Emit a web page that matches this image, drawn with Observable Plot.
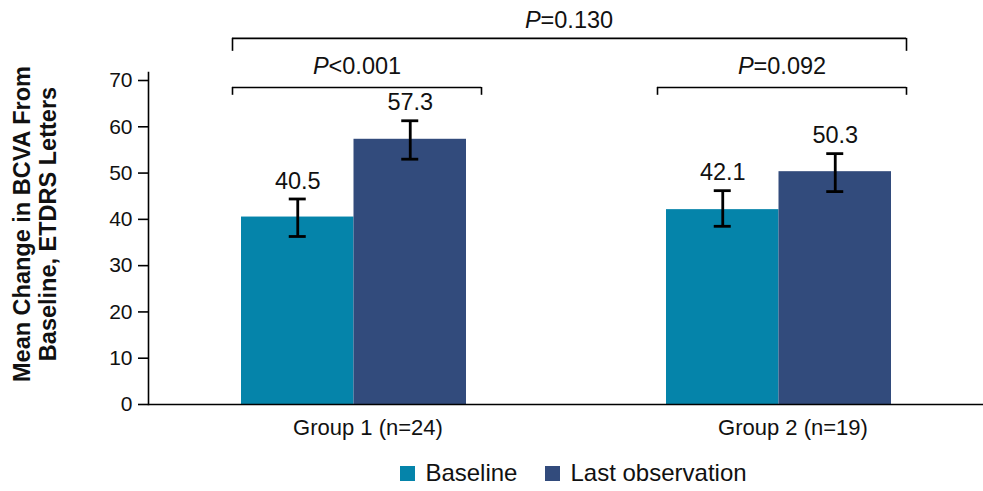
<!DOCTYPE html>
<html>
<head>
<meta charset="utf-8">
<script src="https://cdn.jsdelivr.net/npm/d3@7"></script>
<script src="https://cdn.jsdelivr.net/npm/@observablehq/plot@0.6"></script>
<style>
  html, body { margin: 0; padding: 0; background: #fff; }
  body { font-family: "Liberation Sans", Arial, sans-serif; color: #111; width: 983px; }
  #legend { display: flex; justify-content: center; align-items: center; height: 36px; padding-left: 164px; box-sizing: border-box; width: 983px; font-size: 24px; }
  #legend .item { display: flex; align-items: center; margin: 0 14px; }
  #legend .sw { width: 15px; height: 15px; margin-right: 10px; }
</style>
</head>
<body>
<div id="chart"></div>
<div id="legend"></div>
<script>
// ---------- data ----------
const groups = ["Group 1 (n=24)", "Group 2 (n=19)"];
const series = ["Baseline", "Last observation"];
const baselineMean = [40.5, 42.1];
const lastMean = [57.3, 50.3];
const baselineLower = [36.3, 38.5];
const baselineUpper = [44.4, 46.2];
const lastLower = [53.0, 46.0];
const lastUpper = [61.3, 54.2];
const yTicks = [0, 10, 20, 30, 40, 50, 60, 70];
const withinP = ["P<0.001", "P=0.092"];
const betweenP = "P=0.130";
const yTitle = "Mean Change in BCVA From\nBaseline, ETDRS Letters";
const colors = ["#0584AA", "#324B7C"];

// ---------- layout ----------
const W = 983, H = 455;
const mL = 148, mR = 0, mT = 72, mB = 51;
const plotW = W - mL - mR;
const step = 425, band = 225;
const pInner = 1 - band / step;
const pOuter = (plotW / step - groups.length + pInner) / 2;
const half = band / 2;          // one bar width
const cap = 8.5;                // half cap width
const extL = 9, extR = 15;      // bracket overhang
const lvl = { innerBar: 68.5, innerTick: 66.8, innerText: 73.0, outerBar: 79.1, outerTick: 76.3, outerText: 83.0 };

const rows = groups.flatMap((g, i) => [
  { group: g, series: series[0], mean: baselineMean[i], lower: baselineLower[i], upper: baselineUpper[i] },
  { group: g, series: series[1], mean: lastMean[i], lower: lastLower[i], upper: lastUpper[i] }
]);
const brackets = [
  { from: groups[0], to: groups[0], p: withinP[0], outer: false },
  { from: groups[1], to: groups[1], p: withinP[1], outer: false },
  { from: groups[0], to: groups[1], p: betweenP, outer: true }
];

const ink = "#000";
const txt = "#111";
const marks = [];
series.forEach((s, k) => {
  const sub = rows.filter(d => d.series === s);
  marks.push(Plot.barY(sub, { x: "group", y: "mean", fill: "series", insetLeft: k ? half : 0, insetRight: k ? 0 : half }));
});
marks.push(Plot.ruleY([0], { stroke: ink, strokeWidth: 1.6 }));
marks.push(Plot.frame({ anchor: "left", stroke: ink, strokeWidth: 1.6 }));
series.forEach((s, k) => {
  const sub = rows.filter(d => d.series === s);
  const sign = k === 0 ? -1 : 1;
  const off = sign * half / 2;
  marks.push(Plot.ruleX(sub, { x: "group", y1: "lower", y2: "upper", dx: off, stroke: ink, strokeWidth: 2.8 }));
  marks.push(Plot.tickY(sub, { x: "group", y: "upper", dx: off, inset: half - cap, stroke: ink, strokeWidth: 2.8 }));
  marks.push(Plot.tickY(sub, { x: "group", y: "lower", dx: off, inset: half - cap, stroke: ink, strokeWidth: 2.8 }));
  marks.push(Plot.text(sub, { x: "group", y: "upper", text: d => d.mean.toFixed(1), dx: off, dy: -18, fontSize: 23.5, fill: txt }));
});
// significance brackets
const barLevel = d => d.outer ? lvl.outerBar : lvl.innerBar;
const tickLevel = d => d.outer ? lvl.outerTick : lvl.innerTick;
marks.push(Plot.ruleY(brackets, { x1: "from", x2: "to", y: barLevel, insetLeft: -extL, insetRight: -extR, stroke: ink, strokeWidth: 1.6 }));
marks.push(Plot.ruleX(brackets, { x: "from", y1: tickLevel, y2: barLevel, dx: -(half + extL), stroke: ink, strokeWidth: 1.6 }));
marks.push(Plot.ruleX(brackets, { x: "to", y1: tickLevel, y2: barLevel, dx: half + extR, stroke: ink, strokeWidth: 1.6 }));
marks.push(Plot.text(brackets.filter(d => !d.outer), { x: "from", y: () => lvl.innerText, text: "p", dx: (extR - extL) / 2, fontSize: 23.5, fill: txt, className: "pval" }));
marks.push(Plot.text(brackets.filter(d => d.outer), { y: () => lvl.outerText, text: "p", dx: (extR - extL) / 2, fontSize: 23.5, fill: txt, className: "pval" }));
// axes
marks.push(Plot.axisY(yTicks, { tickSize: 10, tickPadding: 6, fontSize: 21, label: null, stroke: ink, strokeWidth: 1.6, fill: txt }));
marks.push(Plot.axisX({ tickSize: 0, tickPadding: 15, fontSize: 22, label: null, dx: 14, fill: txt }));
marks.push(Plot.text([yTitle], { frameAnchor: "left", textAnchor: "middle", text: d => d, rotate: -90, dx: -113.5, dy: -14.5, fontSize: 23.5, fontWeight: "bold", lineHeight: 1.07, fill: txt }));

const chart = Plot.plot({
  width: W, height: H,
  marginLeft: mL, marginRight: mR, marginTop: mT, marginBottom: mB,
  style: { fontFamily: "'Liberation Sans', Arial, sans-serif", background: "#fff", color: txt },
  x: { domain: groups, paddingInner: pInner, paddingOuter: pOuter, axis: null },
  y: { domain: [0, 70], insetTop: 8, axis: null },
  color: { domain: series, range: colors },
  marks
});
document.getElementById("chart").appendChild(chart);

// italic "P" in significance labels
chart.querySelectorAll(".pval text").forEach(t => {
  const s = t.textContent;
  t.textContent = "";
  const ns = "http://www.w3.org/2000/svg";
  const a = document.createElementNS(ns, "tspan");
  a.setAttribute("font-style", "italic");
  a.textContent = s.slice(0, 1);
  const b = document.createElementNS(ns, "tspan");
  b.textContent = s.slice(1);
  t.appendChild(a); t.appendChild(b);
});

// legend
const leg = d3.select("#legend");
series.forEach((s, k) => {
  const it = leg.append("div").attr("class", "item");
  it.append("div").attr("class", "sw").style("background", colors[k]);
  it.append("span").text(s);
});
</script>
</body>
</html>
